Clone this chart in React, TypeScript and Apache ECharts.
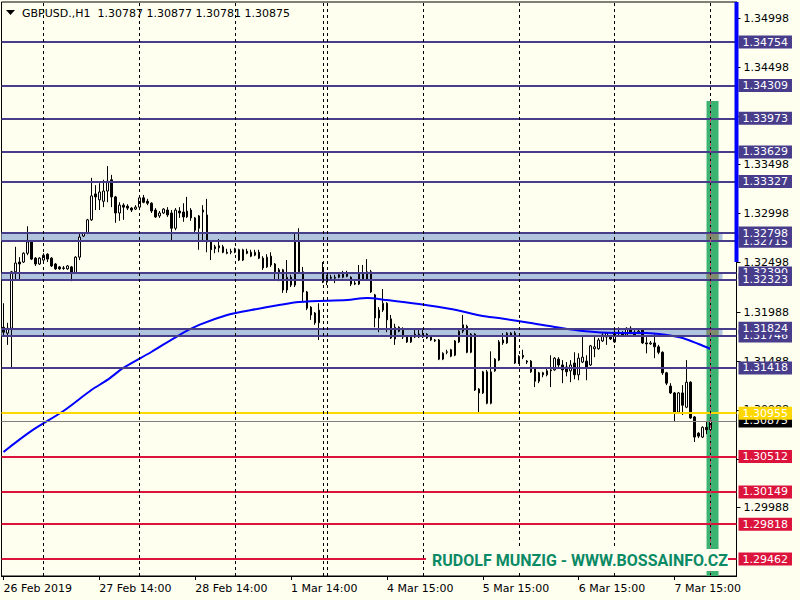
import React, { useEffect, useRef } from 'react';
import * as echarts from 'echarts';

// ---------- DATA ----------
const sessions = [
  { day: '26 Feb', start: 14, count: 10 },
  { day: '27 Feb', start: 0, count: 24 },
  { day: '28 Feb', start: 0, count: 24 },
  { day: '1 Mar', start: 0, count: 22 },
  { day: '3 Mar', start: 23, count: 1 },
  { day: '4 Mar', start: 0, count: 24 },
  { day: '5 Mar', start: 0, count: 24 },
  { day: '6 Mar', start: 0, count: 24 },
  { day: '7 Mar', start: 0, count: 24 },
  { day: '8 Mar', start: 0, count: 7 },
];
const categories: string[] = [];
sessions.forEach((s) => {
  for (let k = 0; k < s.count; k++) {
    const h = s.start + k;
    categories.push(`${s.day} ${h < 10 ? '0' + h : h}:00`);
  }
});

const xTickIndex = [0, 24, 48, 72, 96, 120, 144, 168];
const xTickText = ['26 Feb 2019', '27 Feb 14:00', '28 Feb 14:00', '1 Mar 14:00', '4 Mar 15:00', '5 Mar 15:00', '6 Mar 15:00', '7 Mar 15:00'];
const daySeparators = [10, 34, 58, 80, 81, 105, 129, 153, 177];
const currentSeparator = 177;

const yTickValues = [1.29988, 1.30488, 1.30988, 1.31488, 1.31988, 1.32498, 1.32998, 1.33498, 1.33998, 1.34498, 1.34998];
// labels that are not completely hidden behind the level boxes
const yLabelValues = [1.29988, 1.30988, 1.31488, 1.31988, 1.32498, 1.32998, 1.33498, 1.34498, 1.34998];
const Y_MIN = 1.29288;
const Y_MAX = 1.35164;

const opens = [
  1.31834, 1.31774, 1.31824, 1.32402, 1.32502, 1.32502, 1.32592, 1.32718, 1.32542, 1.32482,
  1.32522, 1.32582, 1.32542, 1.32482, 1.32452, 1.32442, 1.32432, 1.32452, 1.32392, 1.32552,
  1.32768, 1.32798, 1.32934, 1.33199, 1.33139, 1.33124, 1.33229, 1.33344, 1.33169, 1.33004,
  1.33084, 1.33074, 1.33054, 1.33044, 1.33064, 1.33159, 1.33124, 1.33104, 1.33034, 1.32974,
  1.33004, 1.33034, 1.33004, 1.32848, 1.33024, 1.33014, 1.32964, 1.33034, 1.32954, 1.32848,
  1.33014, 1.32984, 1.32708, 1.32658, 1.32668, 1.32658, 1.32602, 1.32602, 1.32602, 1.32628,
  1.32522, 1.32612, 1.32602, 1.32572, 1.32602, 1.32542, 1.32452, 1.32562, 1.32482, 1.32422,
  1.32422, 1.32216, 1.32346, 1.32266, 1.32708, 1.32402, 1.32196, 1.32040, 1.31980, 1.31880,
  1.32442, 1.32296, 1.32346, 1.32336, 1.32346, 1.32346, 1.32392, 1.32346, 1.32276, 1.32276,
  1.32392, 1.32326, 1.32402, 1.32166, 1.32010, 1.32010, 1.32080, 1.31920, 1.31714, 1.31834,
  1.31804, 1.31744, 1.31684, 1.31734, 1.31764, 1.31734, 1.31764, 1.31734, 1.31704, 1.31704,
  1.31508, 1.31578, 1.31604, 1.31548, 1.31684, 1.31794, 1.31844, 1.31578, 1.31764, 1.31202,
  1.31162, 1.31378, 1.31056, 1.31388, 1.31498, 1.31704, 1.31674, 1.31744, 1.31774, 1.31468,
  1.31528, 1.31488, 1.31488, 1.31408, 1.31282, 1.31368, 1.31348, 1.31388, 1.31398, 1.31508,
  1.31448, 1.31428, 1.31388, 1.31468, 1.31348, 1.31478, 1.31488, 1.31448, 1.31614, 1.31614,
  1.31694, 1.31734, 1.31734, 1.31684, 1.31784, 1.31774, 1.31754, 1.31824, 1.31784, 1.31774,
  1.31804, 1.31674, 1.31664, 1.31674, 1.31634, 1.31578, 1.31368, 1.31232, 1.31162, 1.30966,
  1.31162, 1.31016, 1.31272, 1.30916, 1.30750, 1.30710, 1.30810, 1.30787,
];
const highs = [
  1.32080, 1.31880, 1.32412, 1.32658, 1.32552, 1.32602, 1.32868, 1.32728, 1.32552, 1.32552,
  1.32592, 1.32592, 1.32552, 1.32492, 1.32462, 1.32462, 1.32472, 1.32462, 1.32562, 1.32798,
  1.32808, 1.32944, 1.33364, 1.33289, 1.33309, 1.33344, 1.33484, 1.33394, 1.33179, 1.33114,
  1.33104, 1.33094, 1.33064, 1.33084, 1.33169, 1.33189, 1.33149, 1.33114, 1.33054, 1.33024,
  1.33054, 1.33064, 1.33034, 1.33054, 1.33064, 1.33104, 1.33169, 1.33054, 1.32964, 1.32984,
  1.33084, 1.33149, 1.32728, 1.32678, 1.32738, 1.32678, 1.32638, 1.32638, 1.32648, 1.32638,
  1.32638, 1.32638, 1.32628, 1.32628, 1.32628, 1.32562, 1.32582, 1.32602, 1.32492, 1.32442,
  1.32432, 1.32522, 1.32372, 1.32798, 1.32848, 1.32452, 1.32206, 1.32050, 1.31990, 1.32080,
  1.32502, 1.32372, 1.32372, 1.32372, 1.32382, 1.32412, 1.32412, 1.32356, 1.32326, 1.32472,
  1.32472, 1.32532, 1.32422, 1.32176, 1.32040, 1.32226, 1.32090, 1.31960, 1.31870, 1.31844,
  1.31834, 1.31754, 1.31754, 1.31824, 1.31814, 1.31814, 1.31774, 1.31744, 1.31714, 1.31714,
  1.31578, 1.31604, 1.31614, 1.31704, 1.31804, 1.31960, 1.31860, 1.31774, 1.31774, 1.31212,
  1.31388, 1.31398, 1.31588, 1.31518, 1.31704, 1.31774, 1.31784, 1.31784, 1.31794, 1.31548,
  1.31604, 1.31498, 1.31498, 1.31418, 1.31378, 1.31378, 1.31418, 1.31548, 1.31528, 1.31528,
  1.31498, 1.31478, 1.31498, 1.31578, 1.31568, 1.31734, 1.31548, 1.31654, 1.31734, 1.31724,
  1.31774, 1.31784, 1.31754, 1.31804, 1.31834, 1.31794, 1.31834, 1.31844, 1.31804, 1.31814,
  1.31814, 1.31734, 1.31694, 1.31774, 1.31654, 1.31588, 1.31378, 1.31262, 1.31172, 1.31172,
  1.31242, 1.31498, 1.31282, 1.30926, 1.30760, 1.30820, 1.30866, 1.30877,
];
const lows = [
  1.31754, 1.31654, 1.31408, 1.32316, 1.32316, 1.32492, 1.32572, 1.32522, 1.32462, 1.32472,
  1.32512, 1.32502, 1.32452, 1.32422, 1.32422, 1.32422, 1.32422, 1.32306, 1.32382, 1.32522,
  1.32758, 1.32788, 1.32924, 1.33034, 1.33034, 1.33064, 1.33114, 1.33064, 1.32904, 1.32924,
  1.32934, 1.33034, 1.33014, 1.33034, 1.33054, 1.33104, 1.33084, 1.33004, 1.32954, 1.32954,
  1.32994, 1.32964, 1.32708, 1.32828, 1.32954, 1.32914, 1.32954, 1.32924, 1.32798, 1.32628,
  1.32708, 1.32602, 1.32522, 1.32592, 1.32602, 1.32592, 1.32582, 1.32582, 1.32592, 1.32512,
  1.32512, 1.32582, 1.32552, 1.32562, 1.32532, 1.32422, 1.32442, 1.32452, 1.32316, 1.32306,
  1.32186, 1.32186, 1.32246, 1.32246, 1.32392, 1.32090, 1.32010, 1.31910, 1.31860, 1.31704,
  1.32286, 1.32266, 1.32316, 1.32286, 1.32336, 1.32336, 1.32346, 1.32256, 1.32266, 1.32266,
  1.32316, 1.32316, 1.32186, 1.31834, 1.31784, 1.31990, 1.31784, 1.31714, 1.31654, 1.31784,
  1.31714, 1.31674, 1.31674, 1.31724, 1.31724, 1.31724, 1.31714, 1.31694, 1.31684, 1.31498,
  1.31498, 1.31558, 1.31528, 1.31538, 1.31674, 1.31774, 1.31568, 1.31568, 1.31182, 1.30956,
  1.31152, 1.31046, 1.31046, 1.31378, 1.31488, 1.31654, 1.31664, 1.31734, 1.31458, 1.31458,
  1.31508, 1.31458, 1.31368, 1.31222, 1.31262, 1.31322, 1.31332, 1.31222, 1.31388, 1.31428,
  1.31262, 1.31332, 1.31272, 1.31302, 1.31292, 1.31468, 1.31292, 1.31438, 1.31528, 1.31604,
  1.31684, 1.31654, 1.31704, 1.31674, 1.31754, 1.31744, 1.31734, 1.31764, 1.31744, 1.31764,
  1.31664, 1.31568, 1.31654, 1.31518, 1.31558, 1.31348, 1.31242, 1.31152, 1.30866, 1.30956,
  1.30936, 1.31006, 1.30896, 1.30660, 1.30700, 1.30700, 1.30740, 1.30781,
];
const closes = [
  1.31784, 1.31824, 1.32402, 1.32492, 1.32482, 1.32592, 1.32708, 1.32532, 1.32482, 1.32542,
  1.32572, 1.32532, 1.32462, 1.32432, 1.32432, 1.32437, 1.32462, 1.32392, 1.32552, 1.32758,
  1.32798, 1.32934, 1.33179, 1.33169, 1.33219, 1.33229, 1.33329, 1.33169, 1.33004, 1.33084,
  1.33064, 1.33054, 1.33034, 1.33064, 1.33159, 1.33114, 1.33104, 1.33024, 1.32964, 1.33004,
  1.33044, 1.32984, 1.32848, 1.33034, 1.33004, 1.32964, 1.33024, 1.32954, 1.32828, 1.32974,
  1.33034, 1.32708, 1.32628, 1.32638, 1.32648, 1.32602, 1.32592, 1.32612, 1.32638, 1.32522,
  1.32628, 1.32592, 1.32562, 1.32602, 1.32542, 1.32442, 1.32552, 1.32472, 1.32402, 1.32392,
  1.32216, 1.32346, 1.32266, 1.32708, 1.32402, 1.32196, 1.32030, 1.31960, 1.31880, 1.32010,
  1.32296, 1.32356, 1.32336, 1.32346, 1.32372, 1.32392, 1.32356, 1.32276, 1.32286, 1.32382,
  1.32326, 1.32402, 1.32196, 1.31930, 1.31930, 1.32080, 1.31910, 1.31724, 1.31834, 1.31794,
  1.31734, 1.31684, 1.31744, 1.31764, 1.31734, 1.31764, 1.31724, 1.31704, 1.31694, 1.31508,
  1.31568, 1.31583, 1.31538, 1.31694, 1.31794, 1.31860, 1.31578, 1.31764, 1.31192, 1.31162,
  1.31378, 1.31056, 1.31378, 1.31508, 1.31684, 1.31674, 1.31774, 1.31774, 1.31468, 1.31538,
  1.31548, 1.31478, 1.31378, 1.31282, 1.31368, 1.31348, 1.31388, 1.31398, 1.31518, 1.31448,
  1.31398, 1.31378, 1.31448, 1.31348, 1.31518, 1.31528, 1.31428, 1.31644, 1.31634, 1.31704,
  1.31754, 1.31774, 1.31714, 1.31784, 1.31774, 1.31754, 1.31824, 1.31774, 1.31754, 1.31794,
  1.31674, 1.31664, 1.31674, 1.31634, 1.31578, 1.31368, 1.31262, 1.31162, 1.30966, 1.31162,
  1.31036, 1.31272, 1.30906, 1.30710, 1.30720, 1.30810, 1.30785, 1.30875,
];

// moving average, read at points along the blue curve
const maIndex = [0, 7, 15, 22, 26, 30, 37, 44, 49, 56, 62, 74, 86, 91, 96, 104, 112, 120, 124, 132, 138, 145, 153, 161, 166, 170, 174, 177];
const maValue = [1.30558, 1.30773, 1.30977, 1.31192, 1.31295, 1.31418, 1.31581, 1.31755, 1.31858, 1.31960, 1.32011, 1.32093, 1.32113, 1.32134, 1.32113, 1.32072, 1.32021, 1.31950, 1.31929, 1.31878, 1.31837, 1.31796, 1.31776, 1.31776, 1.31755, 1.31724, 1.31663, 1.31612];

const navyLevels = [1.34754, 1.34309, 1.33973, 1.33629, 1.33327, 1.32715, 1.32798, 1.32390, 1.32323, 1.31746, 1.31824, 1.31418];
const zonePairs: [number, number][] = [[1.32798, 1.32715], [1.32390, 1.32323], [1.31824, 1.31746]];
const bidPrice = 1.30875;
const goldLevels = [1.30955];
const crimsonLevels = [1.30512, 1.30149, 1.29818, 1.29462];

const symbolName = 'GBPUSD.,H1';
const watermark = 'RUDOLF MUNZIG - WWW.BOSSAINFO.CZ';

// marker extents (in data units)
const greenBarTop = 1.3415;
const greenBarFrom = 176;
const greenBarTo = 179;
const zoneEndIndex = 180;
const axisBarBottom = 1.32502;

const FONT = 'DejaVu Sans';

export default function App() {
  const ref = useRef<HTMLDivElement>(null);
  useEffect(() => {
    if (!ref.current) return;
    const chart = echarts.init(ref.current, undefined, { renderer: 'svg' });

    const candleData = opens.map((o, i) => [o, closes[i], lows[i], highs[i]]);
    const maData = maIndex.map((idx, k) => [idx, maValue[k]]);

    const lvlLabel = (bg: string) => ({
      show: true,
      position: 'end',
      distance: 2,
      formatter: (p: any) => Number(p.value).toFixed(5),
      color: '#ffffff',
      backgroundColor: bg,
      padding: [1, 4, 1, 4],
      fontFamily: FONT,
      fontSize: 11,
      lineHeight: 11,
    });
    const levelItems: any[] = [];
    navyLevels.forEach((v) =>
      levelItems.push({ yAxis: v, lineStyle: { color: '#483D8B', width: 2, type: 'solid' }, label: lvlLabel('#483D8B') })
    );
    levelItems.push({ yAxis: bidPrice, lineStyle: { color: '#808080', width: 1, type: 'solid' }, label: lvlLabel('#000000') });
    goldLevels.forEach((v) =>
      levelItems.push({ yAxis: v, lineStyle: { color: '#FFD700', width: 2, type: 'solid' }, label: lvlLabel('#FFD700') })
    );
    crimsonLevels.forEach((v) =>
      levelItems.push({ yAxis: v, lineStyle: { color: '#DC143C', width: 2, type: 'solid' }, label: lvlLabel('#DC143C') })
    );

    const sepItems: any[] = daySeparators.map((i) => ({ xAxis: i }));
    // the separator looks pinkish where it crosses the green bar
    sepItems.push([
      { coord: [currentSeparator, greenBarTop], lineStyle: { color: '#C0507A', type: [3, 3], width: 1 } },
      { coord: [currentSeparator, Y_MIN] },
    ]);

    const option: any = {
      animation: false,
      backgroundColor: '#FFFFF0',
      grid: {
        left: 1.5,
        top: 2,
        width: 735,
        height: 574,
        show: true,
        borderColor: '#000',
        borderWidth: 1,
        backgroundColor: 'transparent',
      },
      xAxis: {
        type: 'category',
        data: categories,
        boundaryGap: true,
        axisLine: { show: true, lineStyle: { color: '#000', width: 1 } },
        axisTick: {
          show: true,
          alignWithLabel: true,
          length: 4,
          interval: (index: number) => xTickIndex.includes(index),
          lineStyle: { color: '#000' },
        },
        axisLabel: {
          interval: (index: number) => xTickIndex.includes(index),
          formatter: (_v: string, index: number) => {
            const k = xTickIndex.indexOf(index);
            return k >= 0 ? xTickText[k] : '';
          },
          align: 'left',
          margin: 7,
          color: '#000',
          fontFamily: FONT,
          fontSize: 11,
        },
        splitLine: { show: false },
      },
      yAxis: {
        type: 'value',
        position: 'right',
        min: Y_MIN,
        max: Y_MAX,
        axisLine: { show: true, lineStyle: { color: '#000', width: 1 } },
        axisTick: { show: true, length: 4, inside: false, customValues: yTickValues, lineStyle: { color: '#000' } },
        axisLabel: {
          customValues: yLabelValues,
          formatter: (v: number) => v.toFixed(5),
          margin: 7,
          color: '#000',
          fontFamily: FONT,
          fontSize: 11,
        },
        splitLine: { show: false },
      },
      series: [
        {
          name: 'levels',
          type: 'line',
          data: [],
          z: 2,
          silent: true,
          markLine: {
            silent: true,
            precision: 5,
            symbol: ['none', 'none'],
            animation: false,
            data: levelItems,
          },
        },
        {
          name: 'GBPUSD',
          type: 'candlestick',
          data: candleData,
          barWidth: 2,
          z: 3,
          silent: true,
          itemStyle: {
            color: '#FFFFFF',
            color0: '#000000',
            borderColor: '#000000',
            borderColor0: '#000000',
            borderWidth: 1,
          },
          markLine: {
            silent: true,
            precision: 5,
            symbol: ['none', 'none'],
            animation: false,
            label: { show: false },
            lineStyle: { color: '#000', type: [3, 3], width: 1 },
            data: sepItems,
          },
        },
        {
          name: 'MA',
          type: 'line',
          data: maData,
          z: 4,
          silent: true,
          showSymbol: false,
          smooth: 0.3,
          lineStyle: { color: '#0000FF', width: 2 },
        },
      ],
    };
    chart.setOption(option);

    const cx = (i: number) => chart.convertToPixel({ xAxisIndex: 0 }, i) as number;
    const cy = (v: number) => chart.convertToPixel({ yAxisIndex: 0 }, v) as number;
    const band = cx(1) - cx(0);
    const gl = cx(0) - band / 2;
    const gr = cx(categories.length - 1) + band / 2;
    const gt = cy(Y_MAX);
    const gb = cy(Y_MIN);

    const graphics: any[] = [];
    zonePairs.forEach(([hi, lo]) => {
      graphics.push({
        type: 'rect', silent: true, z: 1, z2: 0,
        shape: { x: gl, y: cy(hi), width: cx(zoneEndIndex) - gl, height: cy(lo) - cy(hi) },
        style: { fill: '#B0C4DE' },
      });
    });
    const gx0 = cx(greenBarFrom);
    const gx1 = cx(greenBarTo);
    graphics.push({
      type: 'rect', silent: true, z: 1, z2: 1,
      shape: { x: gx0, y: cy(greenBarTop), width: gx1 - gx0, height: gb - cy(greenBarTop) },
      style: { fill: '#3CB371' },
    });
    zonePairs.forEach(([hi, lo]) => {
      graphics.push({
        type: 'rect', silent: true, z: 1, z2: 2,
        shape: { x: gx0, y: cy(hi), width: gx1 - gx0, height: cy(lo) - cy(hi) },
        style: { fill: '#7E8C6E' },
      });
    });
    graphics.push({
      type: 'rect', silent: true, z: 20,
      shape: { x: gr - 2, y: gt, width: 4, height: cy(axisBarBottom) - gt },
      style: { fill: '#0000FF' },
    });
    // title
    const last = opens.length - 1;
    const titleText = `${symbolName}  ${opens[last].toFixed(5)} ${highs[last].toFixed(5)} ${lows[last].toFixed(5)} ${closes[last].toFixed(5)}`;
    graphics.push({
      type: 'polygon', silent: true, z: 20,
      shape: { points: [[6, 10], [15, 10], [10.5, 15]] },
      style: { fill: '#000' },
    });
    graphics.push({
      type: 'text', silent: true, z: 20, x: 22, y: 13,
      style: { text: titleText, fill: '#000', font: `11px "${FONT}"`, verticalAlign: 'middle', align: 'left' },
    });
    // watermark
    graphics.push({
      type: 'rect', silent: true, z: 30,
      shape: { x: 426, y: 549, width: 302, height: 22 },
      style: { fill: '#FFFFF0' },
    });
    graphics.push({
      type: 'text', silent: true, z: 31, x: 432, y: 560,
      style: { text: watermark, fill: '#0B8A66', font: 'bold 16px Roboto', verticalAlign: 'middle', align: 'left' },
    });

    chart.setOption({ graphic: { elements: graphics } });

    return () => chart.dispose();
  }, []);

  return (
    <div
      ref={ref}
      style={{ position: 'fixed', left: 0, top: 0, width: 800, height: 600, background: '#FFFFF0' }}
    />
  );
}
